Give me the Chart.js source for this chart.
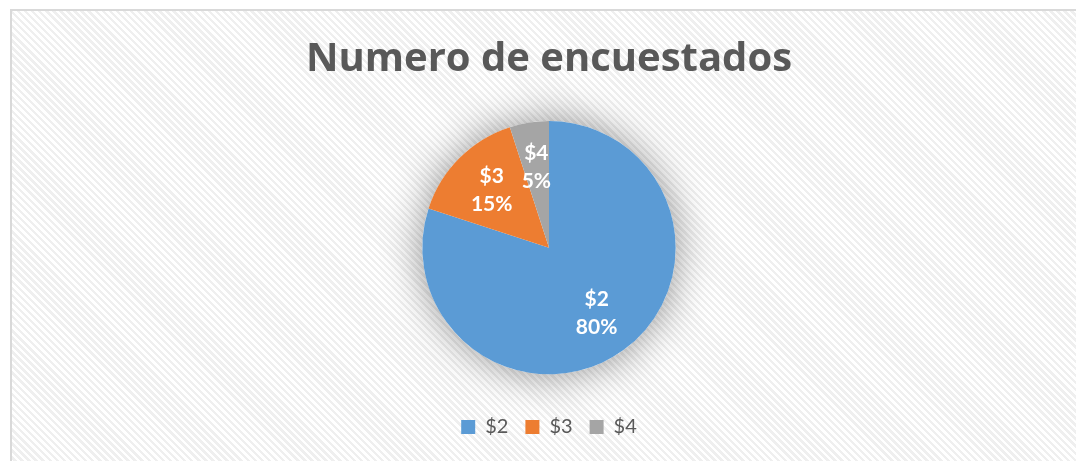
<!DOCTYPE html>
<html>
<head>
<meta charset="utf-8">
<script src="https://cdn.jsdelivr.net/npm/chart.js@4"></script>
<style>
  html, body { margin: 0; padding: 0; background: #fff; }
  body { width: 1076px; height: 461px; position: relative; overflow: hidden; }
  /* chart frame with the light diagonal hatch */
  .frame {
    position: absolute; left: 10px; top: 9px; width: 1080px; height: 470px;
    border: 2px solid #d9d9d9; box-sizing: border-box;
    background: repeating-linear-gradient(45deg, #ffffff 0 2.5px, #efefef 2.5px 5px);
  }
  .wrap { position: absolute; left: 0; top: 0; width: 1076px; height: 461px; }
</style>
</head>
<body>
<div class="frame"></div>
<div class="wrap"><canvas id="pieChart"></canvas></div>
<script>
// ---------- DATA ----------
const categories = ['$2', '$3', '$4'];
const shares = [80, 15, 5];
const sliceColors = ['#5B9BD5', '#ED7D31', '#A5A5A5'];
const chartTitle = 'Numero de encuestados';

const FONT = 'Lato, "Open Sans", sans-serif';

// soft shadow under the whole pie
const pieShadow = {
  id: 'pieShadow',
  beforeDatasetsDraw(chart) {
    const arc = chart.getDatasetMeta(0).data[0];
    if (!arc) return;
    const { x, y, outerRadius } = arc.getProps(['x', 'y', 'outerRadius'], true);
    const ctx = chart.ctx;
    ctx.save();
    ctx.shadowColor = 'rgba(0,0,0,0.42)';
    ctx.shadowBlur = 40;
    ctx.fillStyle = '#ffffff';
    ctx.beginPath();
    ctx.arc(x, y, outerRadius, 0, Math.PI * 2);
    ctx.fill();
    ctx.restore();
  }
};

// category + percent inside each slice
const sliceLabels = {
  id: 'sliceLabels',
  afterDatasetsDraw(chart) {
    const ctx = chart.ctx;
    const data = chart.data.datasets[0].data;
    const total = data.reduce((s, v) => s + v, 0);
    chart.getDatasetMeta(0).data.forEach((arc, i) => {
      const p = arc.getProps(['x', 'y', 'startAngle', 'endAngle', 'outerRadius'], true);
      const mid = (p.startAngle + p.endAngle) / 2;
      const r = p.outerRadius * 0.64;
      const cx = p.x + Math.cos(mid) * r;
      const cy = p.y + Math.sin(mid) * r;
      ctx.save();
      ctx.fillStyle = '#ffffff';
      ctx.font = 'bold 21px ' + FONT;
      ctx.textAlign = 'center';
      ctx.textBaseline = 'middle';
      ctx.fillText(chart.data.labels[i], cx, cy - 14);
      ctx.fillText(Math.round(data[i] / total * 100) + '%', cx, cy + 14);
      ctx.restore();
    });
  }
};

const ctx = document.getElementById('pieChart').getContext('2d');
new Chart(ctx, {
  type: 'pie',
  data: {
    labels: categories,
    datasets: [{ data: shares, backgroundColor: sliceColors, borderWidth: 0 }]
  },
  options: {
    responsive: true,
    maintainAspectRatio: false,
    animation: false,
    layout: { padding: { left: 22, right: 0, top: 0, bottom: 14 } },
    plugins: {
      title: {
        display: true,
        text: chartTitle,
        color: '#595959',
        font: { family: '"Open Sans", Lato, sans-serif', size: 40, weight: 'bold' },
        padding: { top: 36, bottom: 37 }
      },
      legend: {
        position: 'bottom',
        // empty legend title only used as spacer above the items
        title: { display: true, text: ' ', font: { size: 1 }, padding: { top: 0, bottom: 24.5 } },
        labels: {
          color: '#595959',
          font: { family: FONT, size: 20 },
          boxWidth: 14,
          boxHeight: 14,
          padding: 17
        }
      },
      tooltip: { enabled: false }
    }
  },
  plugins: [pieShadow, sliceLabels]
});
</script>
</body>
</html>
